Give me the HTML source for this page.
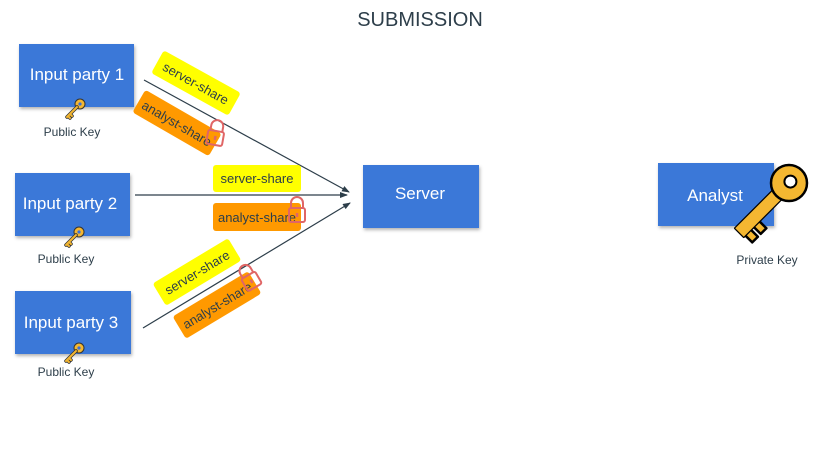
<!DOCTYPE html>
<html><head><meta charset="utf-8"><style>
html,body{margin:0;padding:0;background:#fff;}
svg{display:block;font-family:"Liberation Sans",sans-serif;}
</style></head><body>
<svg width="834" height="452" viewBox="0 0 834 452" xmlns="http://www.w3.org/2000/svg">
<defs>
<filter id="sh" x="-10%" y="-10%" width="130%" height="140%"><feDropShadow dx="1" dy="2" stdDeviation="1.5" flood-color="#000" flood-opacity="0.3"/></filter>
<marker id="ar" markerWidth="8" markerHeight="6" refX="7" refY="3" orient="auto" markerUnits="userSpaceOnUse"><path d="M0,0 L8,3 L0,6 Z" fill="#2d3e4a"/></marker>
<g id="key">
<circle cx="6" cy="-6" r="5" fill="#f4b731" stroke="#333" stroke-width="1"/>
<circle cx="6" cy="-6" r="1.6" fill="#3a6fd8"/>
<path d="M3,-3 L-7,7 M-4,4 L-2,6 M-6,6 L-4,8" stroke="#333" stroke-width="3.5" stroke-linecap="round"/>
<path d="M3,-3 L-7,7 M-4,4 L-2,6 M-6,6 L-4,8" stroke="#f4b731" stroke-width="2" stroke-linecap="round"/>
</g>
<g id="lock" fill="none" stroke="#e06666" stroke-width="2">
<path d="M-6,-2 v-5 a6,6 0 0 1 12,0 v5"/>
<rect x="-8" y="-2" width="16" height="14" rx="2"/>
<line x1="0" y1="3" x2="0" y2="7" stroke-width="2.5"/>
</g>
</defs>
<text x="420" y="26" text-anchor="middle" font-size="20" fill="#2d3e4a">SUBMISSION</text>

<line x1="144" y1="80" x2="349" y2="192" stroke="#2d3e4a" stroke-width="1.2" marker-end="url(#ar)"/>
<line x1="135" y1="195" x2="347" y2="195" stroke="#2d3e4a" stroke-width="1.2" marker-end="url(#ar)"/>
<line x1="143" y1="328" x2="350" y2="203" stroke="#2d3e4a" stroke-width="1.2" marker-end="url(#ar)"/>

<g filter="url(#sh)">
<rect x="19" y="44" width="115" height="63" fill="#3a78d8"/>
<rect x="15" y="173" width="115" height="63" fill="#3a78d8"/>
<rect x="15" y="291" width="116" height="63" fill="#3a78d8"/>
<rect x="363" y="165" width="116" height="63" fill="#3a78d8"/>
<rect x="658" y="163" width="116" height="63" fill="#3a78d8"/>
</g>
<g fill="#fff" font-size="17" text-anchor="middle">
<text x="77" y="80">Input party 1</text>
<text x="70" y="209">Input party 2</text>
<text x="71" y="328">Input party 3</text>
<text x="420" y="199">Server</text>
<text x="715" y="201">Analyst</text>
</g>

<use href="#key" x="74" y="110"/>
<use href="#key" x="73" y="238"/>
<use href="#key" x="73" y="354"/>
<g font-size="12" fill="#2d3e4a" text-anchor="middle">
<text x="72" y="136">Public Key</text>
<text x="66" y="263">Public Key</text>
<text x="66" y="376">Public Key</text>
<text x="767" y="264">Private Key</text>
</g>

<!-- big key -->
<g transform="translate(789,183) rotate(135)" stroke="#000" stroke-width="2.5" fill="#f4b731" stroke-linejoin="round">
<path d="M14,-6 L68,-6 L68,-16 L60,-16 L60,-6 L56,-6 L56,-16 L48,-16 L48,-6 M14,-6 L14,6 L70,6 L70,-6 L68,-6"/>
<path d="M14,-6 L70,-6 L70,6 L14,6 Z" stroke="none"/>
<circle cx="0" cy="0" r="18"/>
<circle cx="-2" cy="0" r="6" fill="#fff" stroke-width="2"/>
</g>

<!-- shares party 1 -->
<g transform="translate(196,83) rotate(29)">
<rect x="-44" y="-13" width="88" height="26" rx="3" fill="#ffff00"/>
<text x="0" y="5" text-anchor="middle" font-size="13" fill="#2d3e4a">server-share</text>
</g>
<g transform="translate(177,123) rotate(30)">
<rect x="-44" y="-13" width="88" height="26" rx="3" fill="#ff9900"/>
<text x="0" y="5" text-anchor="middle" font-size="13" fill="#2d3e4a">analyst-share</text>
</g>
<use href="#lock" x="216" y="133" transform="rotate(10 216 133)"/>

<!-- shares party 2 -->
<rect x="213" y="165" width="88" height="27" rx="3" fill="#ffff00"/>
<text x="257" y="183" text-anchor="middle" font-size="13" fill="#2d3e4a">server-share</text>
<rect x="213" y="203" width="88" height="28" rx="3" fill="#ff9900"/>
<text x="257" y="222" text-anchor="middle" font-size="13" fill="#2d3e4a">analyst-share</text>
<use href="#lock" x="297" y="210"/>

<!-- shares party 3 -->
<g transform="translate(197,272) rotate(-31)">
<rect x="-44" y="-13" width="88" height="26" rx="3" fill="#ffff00"/>
<text x="0" y="5" text-anchor="middle" font-size="13" fill="#2d3e4a">server-share</text>
</g>
<g transform="translate(217,305) rotate(-31)">
<rect x="-44" y="-13" width="88" height="26" rx="3" fill="#ff9900"/>
<text x="0" y="5" text-anchor="middle" font-size="13" fill="#2d3e4a">analyst-share</text>
</g>
<use href="#lock" x="249" y="277" transform="rotate(-30 249 277)"/>
</svg>
</body></html>
